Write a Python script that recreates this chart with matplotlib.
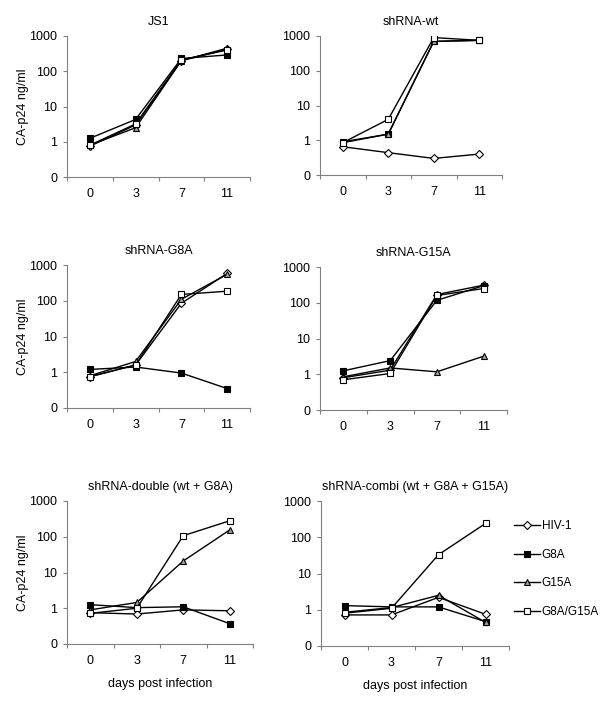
import numpy as np
import matplotlib
matplotlib.use("Agg")
import matplotlib.pyplot as plt

plt.rcParams["font.family"] = ["Liberation Sans", "DejaVu Sans"]
plt.rcParams["font.size"] = 9

# === Data ===
days = ["0", "3", "7", "11"]
series_names = ["HIV-1", "G8A", "G15A", "G8A/G15A"]
titles = ["JS1", "shRNA-wt", "shRNA-G8A", "shRNA-G15A",
          "shRNA-double (wt + G8A)", "shRNA-combi (wt + G8A + G15A)"]

# rows: HIV-1, G8A, G15A, G8A/G15A  (CA-p24 ng/ml)
js1 = [[0.75, 3.0, 200, 420],
       [1.25, 4.3, 230, 290],
       [0.8, 2.5, 200, 450],
       [0.8, 3.2, 210, 400]]
sh_wt = [[0.65, 0.44, 0.30, 0.40],
         [0.9, 1.5, 700, 750],
         [0.85, 1.5, 700, 750],
         [0.85, 4.0, 900, 750]]
sh_g8a = [[0.75, 1.6, 85, 580],
          [1.2, 1.4, 0.95, 0.35],
          [0.8, 2.0, 110, 550],
          [0.75, 1.6, 150, 185]]
sh_g15a = [[0.8, 1.3, 170, 310],
           [1.25, 2.4, 117, 300],
           [0.85, 1.5, 1.17, 3.2],
           [0.7, 1.05, 160, 250]]
sh_double = [[0.75, 0.69, 0.9, 0.85],
             [1.26, 1.04, 1.1, 0.37],
             [0.9, 1.45, 21, 155],
             [0.72, 1.0, 107, 280]]
sh_combi = [[0.72, 0.72, 2.2, 0.75],
            [1.3, 1.2, 1.2, 0.47],
            [0.85, 1.15, 2.5, 0.45],
            [0.8, 1.1, 33, 240]]
panels = [js1, sh_wt, sh_g8a, sh_g15a, sh_double, sh_combi]

styles = [dict(marker="D", mfc="white", ms=4.5),
          dict(marker="s", mfc="black", ms=4.5),
          dict(marker="^", mfc="#a0a0a0", ms=5),
          dict(marker="s", mfc="white", ms=4.5)]

# axes boxes in pixels: left, right, top, bottom
boxes = [(67, 250, 36, 177), (320, 502, 36, 175),
         (67, 250, 265, 408), (320, 507, 267, 410),
         (67, 253, 501, 644), (321, 509, 501, 646)]

W, H = 600, 708
fig = plt.figure(figsize=(6, 7.08), dpi=100)
axes = []
for i, (data, title, (l, r, t, b)) in enumerate(zip(panels, titles, boxes)):
    ax = fig.add_axes([l / W, 1 - b / H, (r - l) / W, (b - t) / H])
    x = np.arange(len(days))
    for vals, st, name in zip(data, styles, series_names):
        ax.plot(x, vals, color="black", lw=1, mec="black", mew=0.8,
                label=name, **st)
    ax.set_yscale("log")
    ax.set_ylim(0.1, 1000)
    ax.set_yticks([0.1, 1, 10, 100, 1000])
    ax.set_yticklabels(["0", "1", "10", "100", "1000"])
    ax.minorticks_off()
    ax.set_xlim(-0.5, 3.5)
    ax.set_xticks(x)
    ax.set_xticklabels(days)
    ax.set_xticks([-0.5, 0.5, 1.5, 2.5, 3.5], minor=True)
    ax.tick_params(axis="x", which="major", length=0, pad=8)
    ax.tick_params(axis="x", which="minor", length=3, color="#808080", width=0.8)
    ax.tick_params(axis="y", which="major", length=3, color="#808080", width=0.8, pad=4)
    ax.tick_params(axis="y", which="minor", left=False)
    for s in ["top", "right"]:
        ax.spines[s].set_visible(False)
    for s in ["left", "bottom"]:
        ax.spines[s].set_color("#808080")
        ax.spines[s].set_linewidth(0.8)
    ax.set_title(title, fontsize=9, pad=8)
    if i % 2 == 0:
        ax.set_ylabel("CA-p24 ng/ml", fontsize=9, labelpad=0)
    if i >= 4:
        ax.set_xlabel("days post infection", fontsize=9, labelpad=8)
    axes.append(ax)

axes[5].legend(loc="upper left", bbox_to_anchor=(508 / W, 1 - 514 / H),
               bbox_transform=fig.transFigure, frameon=False, borderpad=0,
               handlelength=2.2, handletextpad=0.15, labelspacing=1.42,
               fontsize=8.5)

fig.savefig("out.png", dpi=100)
